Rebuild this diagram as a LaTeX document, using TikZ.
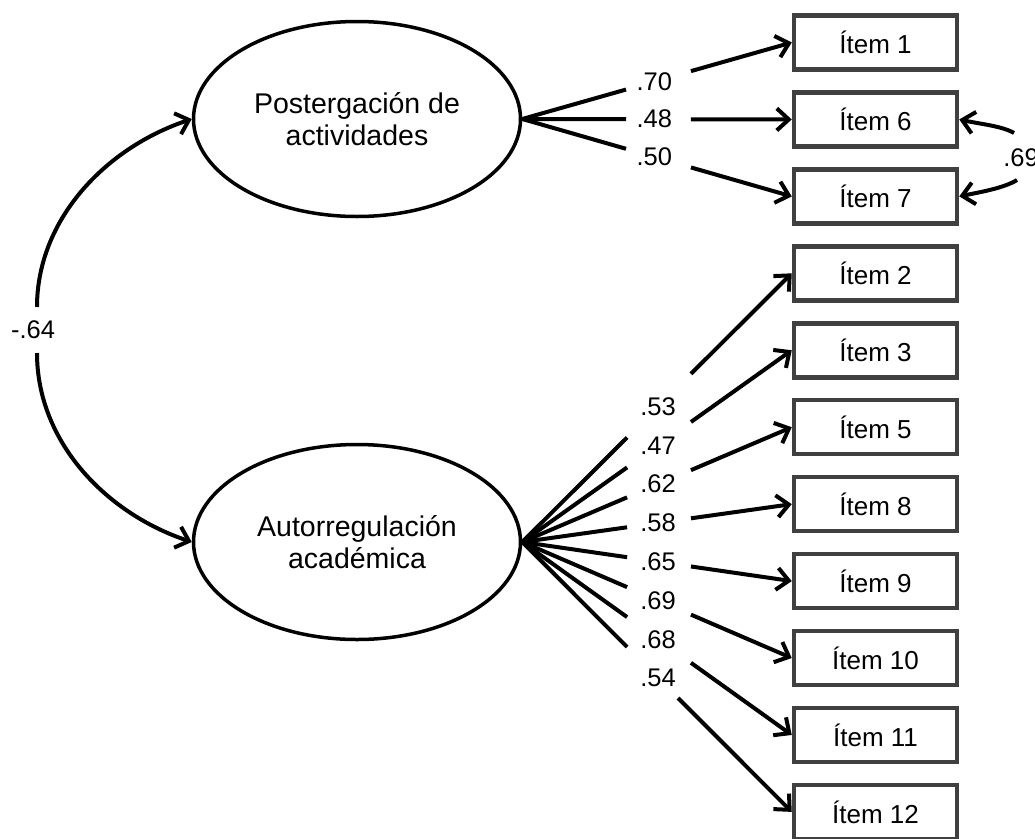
\documentclass[tikz,border=0pt]{standalone}
\usepackage{fontspec}
\setmainfont{Liberation Sans}
\usetikzlibrary{shapes.geometric,arrows.meta,calc}
\definecolor{boxgray}{HTML}{404040}
\begin{document}
\begin{tikzpicture}[x=1pt,y=-1pt,
  txt/.style={font=\fontsize{26}{31}\selectfont},
  lat/.style={font=\fontsize{28.5}{32}\selectfont,ellipse,draw,line width=3.5pt,minimum width=327pt,minimum height=195pt,inner sep=0pt,align=center},
  itembox/.style={txt,rectangle,draw=boxgray,line width=4.5pt,minimum width=163pt,minimum height=54pt,inner sep=0pt},
  conn/.style={line width=4pt,black},
  tipped/.style={conn,-{Straight Barb[length=12pt,width=22pt]}},
  coef/.style={font=\fontsize{25.5}{30}\selectfont,inner sep=0pt}
]
\useasboundingbox (0,0) rectangle (1035,838);

% latent variables
\node[lat] (P) at (357,119) {Postergación de\\actividades};
\node[lat] (A) at (357,542) {Autorregulación\\académica};

% items
\foreach \n/\k in {1/0,6/1,7/2,2/3,3/4,5/5,8/6,9/7,10/8,11/9,12/10}
  \node[itembox] (i\n) at (875.5,{42.5+76.94*\k}) {Ítem \n};

% loadings of Postergación
\foreach \n/\lab/\e in {1/.70/0.626, 6/.48/0.626, 7/.50/0.626}{
  \draw[conn] (P.east) -- ($(P.east)!0.385!(i\n.west)$);
  \draw[tipped] ($(P.east)!\e!(i\n.west)$) -- (i\n.west);
  \node[coef] (c\n) at ($(P.east)!0.49!(i\n.west)$) {\lab};
}

% loadings of Autorregulación
\foreach \n/\lab/\e in {2/.53/0.626, 3/.47/0.626, 5/.62/0.626, 8/.58/0.626, 9/.65/0.626, 10/.69/0.626, 11/.68/0.626, 12/.54/0.578}{
  \draw[conn] (A.east) -- ($(A.east)!0.389!(i\n.west)$);
  \draw[tipped] ($(A.east)!\e!(i\n.west)$) -- (i\n.west);
  \node[coef] (c\n) at ($(A.east)!0.504!(i\n.west)$) {\lab};
}

% correlation between factors
\coordinate (g1) at (37,307);
\coordinate (g2) at (37,353);
\node[coef] (rPA) at (33,330) {-.64};
\draw[tipped] (g1) .. controls (37,220) and (105,148) .. (P.west);
\draw[tipped] (g2) .. controls (37,441) and (105,513) .. (A.west);

% error correlation between items 6 and 7
\coordinate (h1) at (1014,133);
\coordinate (h2) at (1017,180);
\node[coef] (r67) at (1021,158) {.69};
\draw[tipped] (h1) .. controls (1002,126) and (980,124) .. (i6.east);
\draw[tipped] (h2) .. controls (1004,188) and (981,192) .. (i7.east);
\end{tikzpicture}
\end{document}
